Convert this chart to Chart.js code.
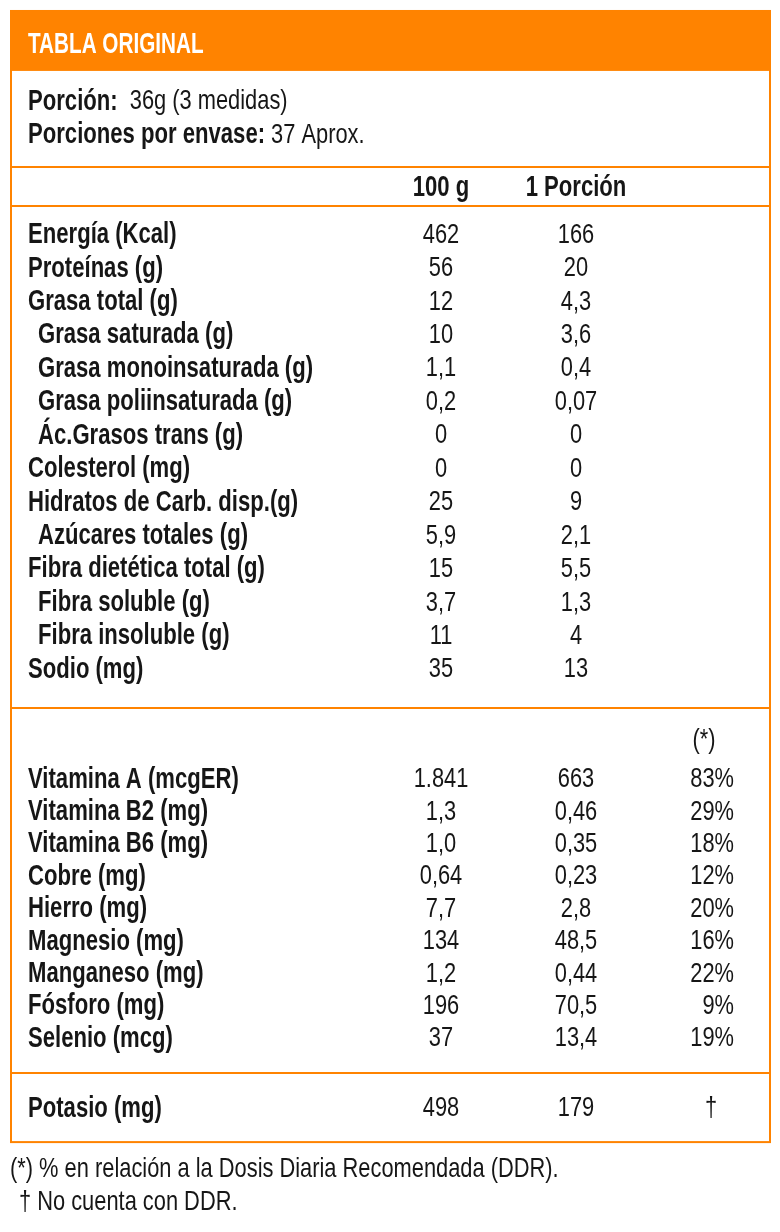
<!DOCTYPE html>
<html lang="es">
<head>
<meta charset="utf-8">
<title>Tabla original</title>
<script src="https://cdn.jsdelivr.net/npm/chart.js@4.4.1/dist/chart.umd.min.js"></script>
<style>
  html, body { margin: 0; padding: 0; background: #fff; }
  #wrap { position: relative; width: 780px; height: 1232px; }
</style>
</head>
<body>
<div id="wrap"><canvas id="tabla"></canvas></div>
<script>
// column heads (x categories)
const columnHeads = ['100 g', '1 Porción', '(*)'];

const nutrientNames = [
  'Energía (Kcal)', 'Proteínas (g)', 'Grasa total (g)', 'Grasa saturada (g)',
  'Grasa monoinsaturada (g)', 'Grasa poliinsaturada (g)', 'Ác.Grasos trans (g)',
  'Colesterol (mg)', 'Hidratos de Carb. disp.(g)', 'Azúcares totales (g)',
  'Fibra dietética total (g)', 'Fibra soluble (g)', 'Fibra insoluble (g)', 'Sodio (mg)'
];
const nutrientIndent = [0, 0, 0, 1, 1, 1, 1, 0, 0, 1, 0, 1, 1, 0];
const nutrient100g = ['462', '56', '12', '10', '1,1', '0,2', '0', '0', '25', '5,9', '15', '3,7', '11', '35'];
const nutrientPortion = ['166', '20', '4,3', '3,6', '0,4', '0,07', '0', '0', '9', '2,1', '5,5', '1,3', '4', '13'];

const vitaminNames = [
  'Vitamina A (mcgER)', 'Vitamina B2 (mg)', 'Vitamina B6 (mg)', 'Cobre (mg)', 'Hierro (mg)',
  'Magnesio (mg)', 'Manganeso (mg)', 'Fósforo (mg)', 'Selenio (mcg)'
];
const vitamin100g = ['1.841', '1,3', '1,0', '0,64', '7,7', '134', '1,2', '196', '37'];
const vitaminPortion = ['663', '0,46', '0,35', '0,23', '2,8', '48,5', '0,44', '70,5', '13,4'];
const vitaminDDR = ['83%', '29%', '18%', '12%', '20%', '16%', '22%', '9%', '19%'];

const potasioName = 'Potasio (mg)';
const potasioValues = ['498', '179', '†'];

const title = 'TABLA ORIGINAL';
const servingLabels = ['Porción:', 'Porciones por envase:'];
const servingValues = ['  36g (3 medidas)', ' 37 Aprox.'];
const footnotes = ['(*) % en relación a la Dosis Diaria Recomendada (DDR).', '† No cuenta con DDR.'];

const ORANGE = '#ff8300';
const INK = '#161616';
const FONT = "'Liberation Sans', Arial, sans-serif";
// condensed look: Liberation Sans squeezed horizontally
const BOLD = { size: 29, sx: 0.762, bold: true };
const REG = { size: 28, sx: 0.78, bold: false };
const TITLE = { size: 30, sx: 0.69, bold: true };

// vertical layout, in row units of the y scale
const rows = [];
rows.push({ name: '', pos: 5.57, bold: true, cells: [columnHeads[0], columnHeads[1], ''] });
nutrientNames.forEach((name, i) => {
  rows.push({ name, indent: nutrientIndent[i], pos: 6.99 + i * 1.004, cells: [nutrient100g[i], nutrientPortion[i], ''] });
});
rows.push({ name: '', pos: 22.16, mark: true, cells: ['', '', columnHeads[2]] });
vitaminNames.forEach((name, i) => {
  rows.push({ name, pos: 23.34 + i * 0.973, cells: [vitamin100g[i], vitaminPortion[i], vitaminDDR[i]] });
});
rows.push({ name: potasioName, pos: 33.23, cells: potasioValues });

function setFont(ctx, f) {
  ctx.font = (f.bold ? 'bold ' : '') + f.size + 'px ' + FONT;
}

// draws text with its cap height centred on yMid
function textAt(ctx, str, x, yMid, f) {
  setFont(ctx, f);
  ctx.save();
  ctx.translate(x, Math.round(yMid + 0.358 * f.size));
  ctx.scale(f.sx, 1);
  ctx.fillText(str, 0, 0);
  ctx.restore();
}

function textWidth(ctx, str, f) {
  setFont(ctx, f);
  return ctx.measureText(str).width * f.sx;
}

const tablePlugin = {
  id: 'tabla',
  beforeDatasetsDraw(chart) {
    const ctx = chart.ctx;
    const y = chart.scales.y;
    ctx.save();
    ctx.textAlign = 'left';
    // header band
    ctx.fillStyle = ORANGE;
    ctx.fillRect(10, y.getPixelForValue(0.3), 761, y.getPixelForValue(2.13) - y.getPixelForValue(0.3));
    ctx.fillStyle = '#fff';
    textAt(ctx, title, 28, y.getPixelForValue(1.275), TITLE);

    // frame and rules
    ctx.strokeStyle = ORANGE;
    ctx.lineWidth = 2;
    ctx.strokeRect(11, y.getPixelForValue(0.33), 759, y.getPixelForValue(34.3) - y.getPixelForValue(0.33));
    [5.02, 6.19, 21.26, 32.22].forEach(u => {
      const py = Math.round(y.getPixelForValue(u));
      ctx.beginPath();
      ctx.moveTo(11, py);
      ctx.lineTo(770, py);
      ctx.stroke();
    });

    // serving info
    ctx.fillStyle = INK;
    servingLabels.forEach((label, i) => {
      const py = y.getPixelForValue(2.98 + i);
      textAt(ctx, label, 28, py, BOLD);
      textAt(ctx, servingValues[i], 28 + textWidth(ctx, label, BOLD), py, REG);
    });

    // footnotes
    textAt(ctx, footnotes[0], 10, y.getPixelForValue(35.06), REG);
    textAt(ctx, footnotes[1], 19, y.getPixelForValue(36.03), REG);
    ctx.restore();
  },
  afterDatasetsDraw(chart) {
    const ctx = chart.ctx;
    ctx.save();
    ctx.fillStyle = INK;
    // names
    const first = chart.getDatasetMeta(0).data;
    ctx.textAlign = 'left';
    rows.forEach((r, i) => {
      if (!r.name) return;
      textAt(ctx, r.name, r.indent ? 38 : 28, first[i].y, BOLD);
    });
    // cells
    chart.data.datasets.forEach((ds, c) => {
      chart.getDatasetMeta(c).data.forEach((pt, i) => {
        const r = rows[i];
        const str = r.cells[c];
        if (!str) return;
        let x = pt.x;
        ctx.textAlign = 'center';
        if (c === 2) {
          if (str.endsWith('%')) { ctx.textAlign = 'right'; x += 23; }
          else if (r.mark) { x -= 7; }
        }
        textAt(ctx, str, x, pt.y, r.bold ? BOLD : REG);
      });
    });
    ctx.restore();
  }
};

new Chart(document.getElementById('tabla'), {
  type: 'scatter',
  data: {
    datasets: columnHeads.map((head, c) => ({
      label: head,
      data: rows.map(r => ({ x: head, y: r.pos })),
      pointRadius: 0
    }))
  },
  options: {
    responsive: true,
    maintainAspectRatio: false,
    animation: false,
    events: [],
    layout: { padding: { left: 441, right: 69, top: 0, bottom: 0 } },
    scales: {
      x: { type: 'category', labels: columnHeads, offset: false, display: false },
      y: { type: 'linear', min: 0, max: 37, reverse: true, display: false }
    },
    plugins: {
      legend: { display: false },
      tooltip: { enabled: false }
    }
  },
  plugins: [tablePlugin]
});
</script>
</body>
</html>
